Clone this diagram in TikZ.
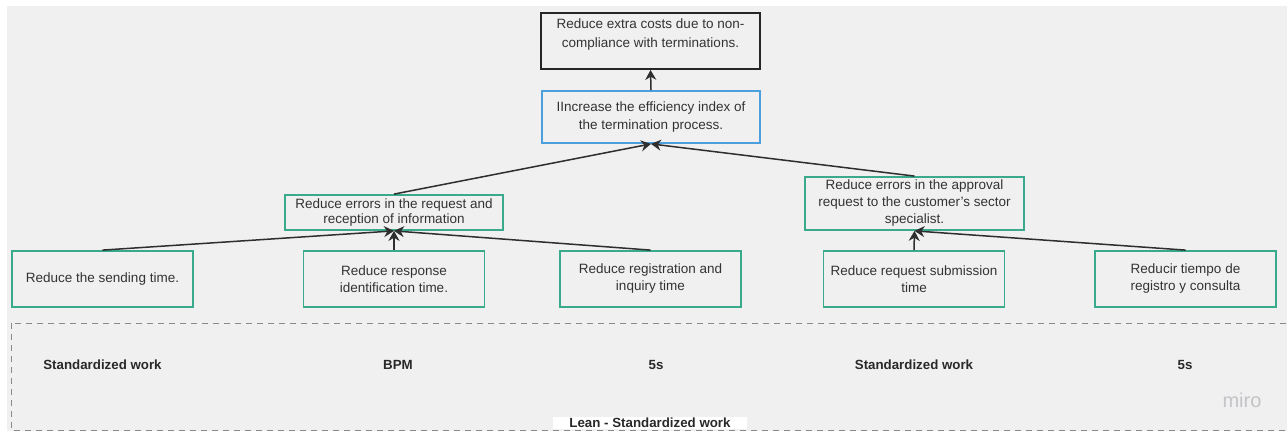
\documentclass[tikz,border=0pt]{standalone}
\usepackage{fontspec}
\setmainfont{Liberation Sans}
\usetikzlibrary{arrows.meta}
\definecolor{bg}{HTML}{F0F0F0}
\definecolor{txt}{HTML}{333333}
\definecolor{teal}{HTML}{3AAA8C}
\definecolor{bluebox}{HTML}{4A9FDC}
\definecolor{dashgray}{HTML}{8A8A8A}
\definecolor{mirogray}{HTML}{C4C4C8}
\tikzset{
  box/.style={draw=teal, line width=1.8pt, fill=bg, text=txt, align=center,
    font=\fontsize{13.5}{17}\selectfont, inner sep=2pt},
  conn/.style={draw=txt!90!black, line width=1.5pt, -{Stealth[length=10pt,width=11pt]}},
  lbl/.style={font=\bfseries\fontsize{13.3}{15}\selectfont, text=txt!80!black},
}
\begin{document}
\begin{tikzpicture}[x=1pt,y=-1pt]
\useasboundingbox (0,0) rectangle (1287,431);
\fill[white] (0,0) rectangle (1287,431);
\fill[bg] (7,6) rectangle (1287,431);
% dashed frame
\draw[dashgray, line width=1pt, dash pattern=on 6pt off 5pt] (11,323) rectangle (1295,430);
% nodes
\node[box, draw=black!85, minimum width=219pt, minimum height=56pt, font=\fontsize{13.5}{19}\selectfont] (top) at (650.5,41) {Reduce extra costs due to non-\\compliance with terminations.\\[-4pt]};
\node[box, draw=bluebox, minimum width=218pt, minimum height=52pt, font=\fontsize{13.5}{18}\selectfont] (mid) at (651,117) {IIncrease the efficiency index of\\the termination process.};
\node[box, minimum width=218pt, minimum height=35pt, font=\fontsize{13.5}{15.5}\selectfont] (ml) at (394,212.5) {Reduce errors in the request and\\reception of information};
\node[box, minimum width=219pt, minimum height=53pt] (mr) at (914.5,203.5) {Reduce errors in the approval\\request to the customer's sector\\specialist.};
\node[box, minimum width=181pt, minimum height=56pt] (b1) at (102.5,279) {Reduce the sending time.};
\node[box, minimum width=181pt, minimum height=56pt] (b2) at (394,279) {Reduce response\\identification time.};
\node[box, minimum width=181pt, minimum height=56pt] (b3) at (650.5,279) {Reduce registration and\\inquiry time};
\node[box, minimum width=181pt, minimum height=56pt] (b4) at (914,279) {Reduce request submission\\time};
\node[box, minimum width=181pt, minimum height=56pt] (b5) at (1185.5,279) {Reducir tiempo de\\registro y consulta};
% connectors
\draw[conn] (mid.north) -- (top.south);
\draw[conn] (ml.north) -- (mid.south);
\draw[conn] (mr.north) -- (mid.south);
\draw[conn] (b1.north) -- (ml.south);
\draw[conn] (b2.north) -- (ml.south);
\draw[conn] (b3.north) -- (ml.south);
\draw[conn] (b4.north) -- (mr.south);
\draw[conn] (b5.north) -- (mr.south);
% labels
\node[lbl] (l1) at (102.5,365) {Standardized work};
\node[lbl] (l2) at (398,365) {BPM};
\node[lbl] (l3) at (656,365) {5s};
\node[lbl] (l4) at (914,365) {Standardized work};
\node[lbl] (l5) at (1185,365) {5s};
\node[lbl, fill=white, minimum width=194pt, inner ysep=1pt] (frame) at (650,423) {Lean - Standardized work};
\node[font=\fontsize{20}{22}\selectfont, text=mirogray] (miro) at (1242,400) {miro};
\end{tikzpicture}
\end{document}
